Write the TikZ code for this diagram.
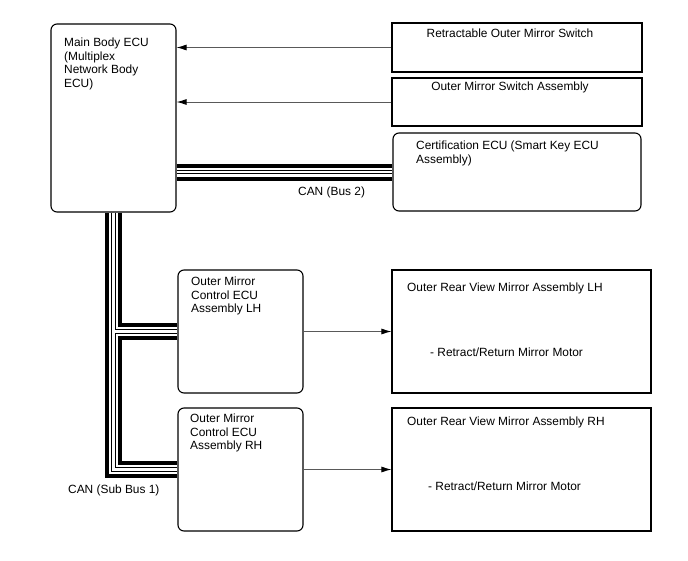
\documentclass[tikz,border=0pt]{standalone}
\usepackage{fontspec}
\setmainfont{Liberation Sans}
\usetikzlibrary{arrows.meta,positioning}

\begin{document}
\begin{tikzpicture}[x=1pt,y=-1pt,
  font=\fontsize{11.9}{13.8}\selectfont,
  box/.style={draw,line width=1.1pt,inner sep=0pt,fill=white},
  rbox/.style={box,rounded corners=6pt},
  txt/.style={inner sep=0pt,align=left},
  arr/.style={-{Latex[length=10pt,width=6pt,color=black]},line width=0.9pt,draw=black!65}]
\useasboundingbox (0,0) rectangle (688,560);
% ---------- Top: ECU and switches ----------
\node[rbox,minimum width=125pt,minimum height=188pt] (main) at (113.5,118) {};
\node[box,minimum width=250pt,minimum height=49pt] (retsw) at (517,47.5) {};
\node[box,minimum width=250pt,minimum height=48pt] (swasm) at (517,102) {};
\node[rbox,minimum width=248pt,minimum height=78pt] (cert) at (517,172) {};
\node[txt,anchor=north west] (maintxt) at (64,37.5) {Main Body ECU\\(Multiplex\\Network Body\\ECU)};
\node[txt] (rettxt) at (510,33) {Retractable Outer Mirror Switch};
\node[txt] (swtxt) at (510,87) {Outer Mirror Switch Assembly};
\node[txt,anchor=north west] (certtxt) at (416,140.5) {Certification ECU (Smart Key ECU\\Assembly)};
\draw[arr] (retsw.west) -- (retsw.west -| main.east);
\draw[arr] (swasm.west) -- (swasm.west -| main.east);
% ---------- Bottom: mirror control ----------
\node[rbox,minimum width=125pt,minimum height=123pt] (lhctl) at (240.5,331.5) {};
\node[rbox,minimum width=125pt,minimum height=123pt] (rhctl) at (240.5,469.5) {};
\node[box,minimum width=259pt,minimum height=123pt] (lhmir) at (521.5,331.5) {};
\node[box,minimum width=259pt,minimum height=123pt] (rhmir) at (521.5,469.5) {};
\node[txt,anchor=north west] (lhctltxt) at (191,276.5) {Outer Mirror\\Control ECU\\Assembly LH};
\node[txt,anchor=north west] (rhctltxt) at (190,413.5) {Outer Mirror\\Control ECU\\Assembly RH};
\node[txt,anchor=west] (lhmirtxt) at (407,288) {Outer Rear View Mirror Assembly LH};
\node[txt,anchor=west] (lhmot) at (430,352) {- Retract/Return Mirror Motor};
\node[txt,anchor=west] (rhmirtxt) at (407,422) {Outer Rear View Mirror Assembly RH};
\node[txt,anchor=west] (rhmot) at (428,486) {- Retract/Return Mirror Motor};
\draw[arr] (lhctl.east) -- (lhmir.west);
\draw[arr] (rhctl.east) -- (rhmir.west);
% ---------- CAN buses ----------
\foreach \w/\c in {17/black,9/white,4.5/black,2.5/white}{
  \draw[line width=\w pt,\c] (main.south) |- (rhctl.west);
  \draw[line width=\w pt,\c] (main.south |- lhctl.west) -- (lhctl.west);
  \draw[line width=\w pt,\c] (main.east |- cert.west) -- (cert.west);
}
\node[txt,anchor=west] (bus2) at (298,192) {CAN (Bus 2)};
\node[txt,anchor=west] (sub1) at (68,490) {CAN (Sub Bus 1)};
\end{tikzpicture}
\end{document}
